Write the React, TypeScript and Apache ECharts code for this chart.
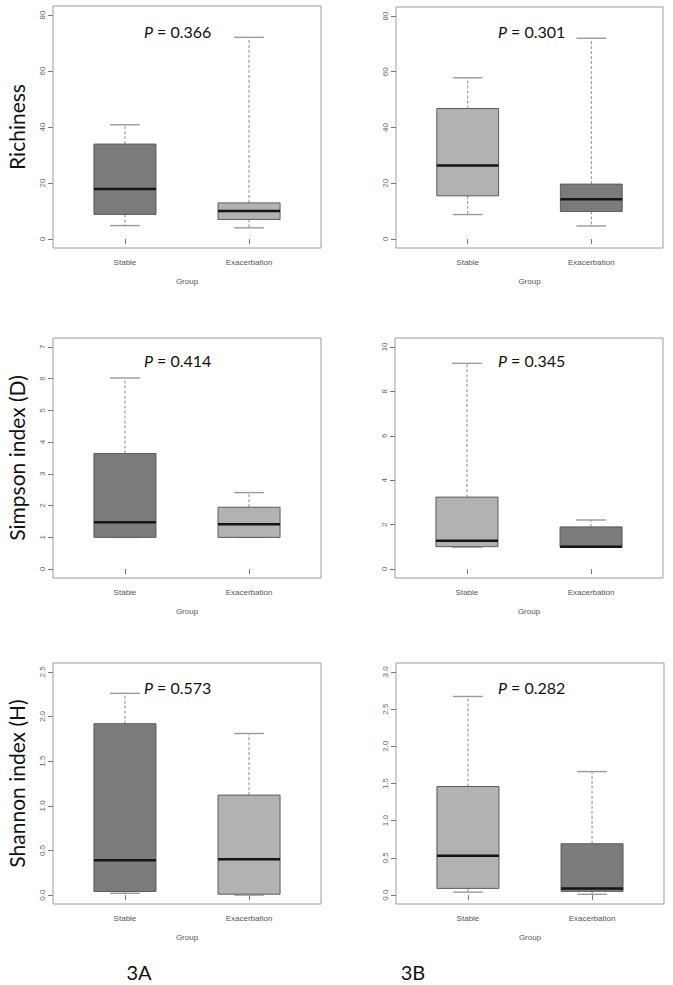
import React, { useEffect, useRef } from "react";
import * as echarts from "echarts";

// ---- data ----
const groups = ["Stable", "Exacerbation"];
const groupPositions = [1, 2];
// [min, Q1, median, Q3, max]
const richness3A = [[4.8, 8.8, 17.9, 33.9, 40.8], [4, 7, 10, 12.9, 72]];
const richness3B = [[8.8, 15.5, 26.4, 46.8, 57.8], [4.7, 9.9, 14.3, 19.7, 72]];
const simpson3A = [[1.0, 1.0, 1.48, 3.64, 6.02], [1.0, 1.0, 1.41, 1.95, 2.41]];
const simpson3B = [[0.99, 1.01, 1.28, 3.24, 9.26], [1.0, 1.0, 1.01, 1.9, 2.21]];
const shannon3A = [[0.02, 0.04, 0.39, 1.92, 2.26], [0.0, 0.01, 0.4, 1.12, 1.81]];
const shannon3B = [[0.04, 0.09, 0.53, 1.46, 2.67], [0.01, 0.05, 0.09, 0.69, 1.66]];
const pValues = ["0.366", "0.301", "0.414", "0.345", "0.573", "0.282"];
const richTicks = [0, 20, 40, 60, 80];
const simpsonTicksA = [0, 1, 2, 3, 4, 5, 6, 7];
const simpsonTicksB = [0, 2, 4, 6, 8, 10];
const shannonTicksA = [0, 0.5, 1.0, 1.5, 2.0, 2.5];
const shannonTicksB = [0, 0.5, 1.0, 1.5, 2.0, 2.5, 3.0];
const yNames = ["Richiness", "Simpson index (D)", "Shannon index (H)"];
const xName = "Group";
const panelLabels = ["3A", "3B"];

const DARK = "#7b7b7b";
const LIGHT = "#b2b2b2";
const BIG_FONT = "Lato";
const SMALL_FONT = "Liberation Sans";

const panels = [
  { grid: { left: 53, top: 6, width: 268, height: 242 }, data: richness3A, fills: [DARK, LIGHT], ticks: richTicks, dec: 0, name: yNames[0], p: pValues[0], pPos: [144, 31] },
  { grid: { left: 396, top: 7, width: 267, height: 241 }, data: richness3B, fills: [LIGHT, DARK], ticks: richTicks, dec: 0, name: "", p: pValues[1], pPos: [498, 31] },
  { grid: { left: 53, top: 338, width: 268, height: 240 }, data: simpson3A, fills: [DARK, LIGHT], ticks: simpsonTicksA, dec: 0, name: yNames[1], p: pValues[2], pPos: [144, 360] },
  { grid: { left: 395, top: 338, width: 268, height: 240 }, data: simpson3B, fills: [LIGHT, DARK], ticks: simpsonTicksB, dec: 0, name: "", p: pValues[3], pPos: [498, 360] },
  { grid: { left: 53, top: 663, width: 268, height: 241 }, data: shannon3A, fills: [DARK, LIGHT], ticks: shannonTicksA, dec: 1, name: yNames[2], p: pValues[4], pPos: [144, 687] },
  { grid: { left: 396, top: 663, width: 268, height: 241 }, data: shannon3B, fills: [LIGHT, DARK], ticks: shannonTicksB, dec: 1, name: "", p: pValues[5], pPos: [498, 687] },
];

const BOX_HALF = 0.25;
const CAP_HALF = 0.12;

export default function App() {
  const ref = useRef<HTMLDivElement>(null);
  useEffect(() => {
    if (!ref.current) return;
    const chart = echarts.init(ref.current, null, { renderer: "svg" });
    const grids: any[] = [];
    const xAxes: any[] = [];
    const yAxes: any[] = [];
    const series: any[] = [];
    const graphics: any[] = [];

    panels.forEach((p, i) => {
      grids.push({ ...p.grid, show: true, borderColor: "#9c9c9c", borderWidth: 1, backgroundColor: "transparent", containLabel: false });
      const tickMax = p.ticks[p.ticks.length - 1];
      const ext = tickMax * 0.04;
      xAxes.push({
        type: "value", gridIndex: i, min: 0.42, max: 2.58,
        name: xName, nameLocation: "middle", nameGap: 29,
        nameTextStyle: { fontSize: 8, color: "#555", fontFamily: SMALL_FONT },
        axisLine: { show: false },
        splitLine: { show: false },
        axisTick: { show: true, customValues: groupPositions, length: 5, lineStyle: { color: "#777" } },
        axisLabel: { customValues: groupPositions, formatter: (v: number) => groups[Math.round(v) - 1] ?? "", fontSize: 8, color: "#555", fontFamily: SMALL_FONT, margin: 10 },
      });
      yAxes.push({
        type: "value", gridIndex: i, min: -ext, max: tickMax + ext,
        name: p.name, nameLocation: "middle", nameGap: 26, nameRotate: 90,
        nameTextStyle: { fontSize: 21, color: "#111", fontFamily: BIG_FONT },
        axisLine: { show: false },
        splitLine: { show: false },
        axisTick: { show: true, customValues: p.ticks, length: 5, lineStyle: { color: "#777" } },
        axisLabel: { customValues: p.ticks, rotate: 90, formatter: (v: number) => v.toFixed(p.dec), fontSize: 8, color: "#666", fontFamily: SMALL_FONT, margin: 7 },
      });
      const fills = p.fills;
      series.push({
        type: "custom", xAxisIndex: i, yAxisIndex: i,
        data: p.data.map((d, k) => [groupPositions[k], ...d]),
        encode: { x: 0, y: [1, 2, 3, 4, 5] },
        renderItem: (params: any, api: any) => {
          const x = api.value(0);
          const c = (v: number) => api.coord([x, v]);
          const pMin = c(api.value(1));
          const pQ1 = c(api.value(2));
          const pMd = c(api.value(3));
          const pQ3 = c(api.value(4));
          const pMx = c(api.value(5));
          const half = api.size([BOX_HALF, 0])[0];
          const cap = api.size([CAP_HALF, 0])[0];
          const cx = pMd[0];
          const whisker = { stroke: "#8a8a8a", lineWidth: 1, lineDash: [3, 2] };
          const capStyle = { stroke: "#9a9a9a", lineWidth: 1.4 };
          return {
            type: "group",
            children: [
              { type: "line", shape: { x1: cx, y1: pQ3[1], x2: cx, y2: pMx[1] }, style: whisker },
              { type: "line", shape: { x1: cx, y1: pQ1[1], x2: cx, y2: pMin[1] }, style: whisker },
              { type: "line", shape: { x1: cx - cap, y1: pMx[1], x2: cx + cap, y2: pMx[1] }, style: capStyle },
              { type: "line", shape: { x1: cx - cap, y1: pMin[1], x2: cx + cap, y2: pMin[1] }, style: capStyle },
              { type: "rect", shape: { x: cx - half, y: pQ3[1], width: 2 * half, height: pQ1[1] - pQ3[1] }, style: { fill: fills[params.dataIndex], stroke: "#5c5c5c", lineWidth: 1 } },
              { type: "line", shape: { x1: cx - half, y1: pMd[1], x2: cx + half, y2: pMd[1] }, style: { stroke: "#151515", lineWidth: 2.5 } },
            ],
          };
        },
      });
      graphics.push({
        type: "text", x: p.pPos[0], y: p.pPos[1],
        style: {
          text: "{i|P} = " + p.p,
          fontSize: 16, fontFamily: BIG_FONT, fill: "#111",
          textAlign: "left", textVerticalAlign: "middle",
          rich: { i: { fontStyle: "italic", fontSize: 16, fontFamily: BIG_FONT, fill: "#111" } },
        },
      });
    });

    graphics.push({ type: "text", x: 139, y: 972, style: { text: panelLabels[0], fontSize: 20, fontFamily: BIG_FONT, fill: "#111", textAlign: "center", textVerticalAlign: "middle" } });
    graphics.push({ type: "text", x: 413, y: 972, style: { text: panelLabels[1], fontSize: 20, fontFamily: BIG_FONT, fill: "#111", textAlign: "center", textVerticalAlign: "middle" } });

    chart.setOption({
      animation: false,
      backgroundColor: "#ffffff",
      grid: grids,
      xAxis: xAxes,
      yAxis: yAxes,
      series,
      graphic: graphics,
    });
    return () => chart.dispose();
  }, []);
  return <div ref={ref} style={{ position: "absolute", left: 0, top: 0, width: 673, height: 985 }} />;
}
